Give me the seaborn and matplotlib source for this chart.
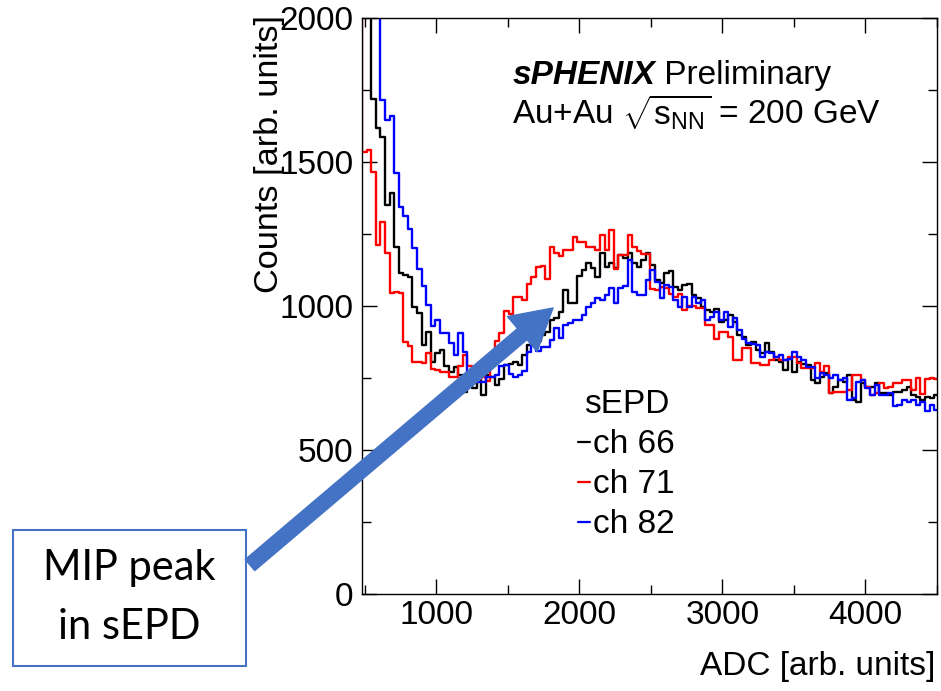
import numpy as np
import pandas as pd
import matplotlib
matplotlib.use("Agg")
import matplotlib.pyplot as plt
import seaborn as sns
from matplotlib.lines import Line2D
from matplotlib.patches import Rectangle, FancyArrowPatch
from matplotlib.ticker import MultipleLocator

# ---------------- data ----------------
bin_edges = list(range(448, 4512 + 1, 32))          # ADC bin edges
bin_centers = [e + 16 for e in bin_edges[:-1]]

ch66 = [2500,
        2400, 2050, 1718, 1617, 1588, 1351, 1391, 1206, 1113, 1108,
        1102, 998, 975, 865, 911, 807, 836, 847, 790, 772,
        789, 760, 702, 743, 715, 754, 691, 760, 754, 725,
        748, 795, 800, 805, 795, 830, 865, 870, 880, 900,
        910, 951, 957, 980, 1055, 1009, 1009, 1105, 1125, 1148,
        1131, 1100, 1183, 1136, 1148, 1131, 1177, 1166, 1183, 1148,
        1136, 1160, 1183, 1143, 1090, 1080, 1113, 1120, 1067, 1055,
        1073, 1078, 1038, 1026, 997, 985, 980, 991, 945, 951,
        968, 945, 900, 893, 864, 876, 847, 835, 870, 841,
        812, 806, 777, 818, 772, 806, 800, 795, 743, 732,
        755, 766, 697, 720, 743, 737, 760, 672, 668, 732,
        720, 720, 732, 697, 697, 691, 703, 700, 708, 720,
        691, 685, 674, 685, 680, 690]

ch71 = [2300,
        1536, 1540, 1466, 1212, 1293, 1183, 1044, 1050, 1044, 875,
        860, 807, 805, 801, 835, 780, 776, 770, 770, 752,
        755, 790, 830, 790, 760, 745, 755, 740, 800, 880,
        905, 983, 972, 1030, 1030, 1020, 1077, 1100, 1136, 1140,
        1095, 1204, 1183, 1175, 1195, 1195, 1241, 1223, 1223, 1206,
        1206, 1195, 1247, 1195, 1264, 1130, 1177, 1177, 1247, 1206,
        1190, 1180, 1180, 1060, 1055, 1065, 1062, 1040, 1032, 1040,
        986, 1000, 1000, 992, 992, 934, 934, 887, 910, 910,
        893, 812, 812, 853, 853, 801, 801, 795, 795, 812,
        824, 812, 812, 824, 824, 801, 783, 783, 783, 801,
        772, 790, 697, 703, 703, 703, 708, 760, 760, 743,
        720, 691, 697, 732, 714, 720, 732, 732, 743, 743,
        708, 749, 695, 745, 749, 745]

ch82 = [2500,
        2400, 2400, 2300, 2200, 1715, 1646, 1660, 1461, 1343, 1314,
        1268, 1202, 1129, 1068, 1002, 932, 950, 906, 906, 870,
        830, 906, 841, 765, 740, 735, 735, 755, 755, 760,
        790, 795, 765, 755, 762, 775, 841, 870, 845, 858,
        858, 882, 923, 888, 934, 940, 951, 951, 969, 998,
        1009, 1027, 1020, 1038, 1062, 1010, 1062, 1068, 1160, 1050,
        1038, 1038, 1090, 1125, 1084, 1027, 1073, 1065, 1020, 997,
        1031, 997, 1031, 1009, 1021, 951, 962, 979, 951, 979,
        928, 957, 916, 887, 870, 868, 864, 824, 841, 835,
        824, 830, 812, 815, 841, 824, 812, 789, 789, 749,
        766, 760, 749, 760, 743, 749, 674, 680, 737, 743,
        714, 691, 726, 691, 691, 697, 651, 655, 674, 668,
        674, 657, 668, 634, 657, 640]

channels = ["ch 66", "ch 71", "ch 82"]
colors = {"ch 66": "black", "ch 71": "red", "ch 82": "blue"}
x_ticks = [1000, 2000, 3000, 4000]
y_ticks = [0, 500, 1000, 1500, 2000]

df = pd.concat([
    pd.DataFrame({"adc": bin_centers, "counts": vals, "channel": name})
    for name, vals in zip(channels, [ch66, ch71, ch82])
], ignore_index=True)

# ---------------- figure ----------------
sns.set_theme(style="ticks", rc={
    "text.color": "black", "axes.labelcolor": "black",
    "xtick.color": "black", "ytick.color": "black",
    "axes.edgecolor": "black",
})
plt.rcParams["font.family"] = ["Liberation Sans", "DejaVu Sans"]
plt.rcParams["mathtext.fontset"] = "custom"
plt.rcParams["mathtext.rm"] = "Liberation Sans"
plt.rcParams["mathtext.it"] = "Liberation Sans:italic"
plt.rcParams["mathtext.bf"] = "Liberation Sans:bold"

fig = plt.figure(figsize=(9.41, 6.91), dpi=100)
fig.patch.set_facecolor("white")
ax = fig.add_axes([0.3842, 0.1404, 0.6115, 0.8336])
ax.set_facecolor("white")

for name in channels:
    sub = df[df["channel"] == name]
    sns.histplot(x=sub["adc"].to_numpy(), weights=sub["counts"].to_numpy(),
                 bins=bin_edges, element="step", fill=False,
                 color=colors[name], linewidth=1.7, ax=ax)

ax.set_xlim(476, 4500)
ax.set_ylim(0, 2000)
ax.set_xticks(x_ticks)
ax.set_xticklabels([str(v) for v in x_ticks])
ax.set_yticks(y_ticks)
ax.set_yticklabels([str(v) for v in y_ticks])
ax.xaxis.set_minor_locator(MultipleLocator(500))
ax.yaxis.set_minor_locator(MultipleLocator(250))
ax.tick_params(which="both", direction="in", top=True, right=True,
               width=1.0, color="black", labelcolor="black",
               labelsize=24)
ax.tick_params(axis="y", pad=6)
ax.tick_params(axis="x", pad=4)
ax.tick_params(which="major", length=11)
ax.tick_params(which="minor", length=6.5)
for s in ax.spines.values():
    s.set_visible(True)
    s.set_linewidth(1.0)
    s.set_color("black")

ax.set_ylabel("Counts [arb. units]", fontsize=24.7, loc="top", color="black")
ax.yaxis.set_label_coords(-0.133, 1.006)
ax.set_xlabel("ADC [arb. units]", fontsize=24, loc="right", color="black")
ax.xaxis.set_label_coords(0.997, -0.099)

# header text
t1 = ax.text(0.262, 0.8854, "sPHENIX", transform=ax.transAxes,
             fontsize=24, fontweight="bold", fontstyle="italic",
             ha="left", va="baseline", color="black")
ax.annotate(" Preliminary", xy=(1, 0), xycoords=t1, fontsize=24,
            ha="left", va="bottom", color="black")
ax.text(0.262, 0.816, r"Au+Au $\sqrt{\mathregular{s_{NN}}}$ = 200 GeV",
        transform=ax.transAxes, fontsize=24, ha="left", va="baseline",
        color="black")

# legend
handles = [Line2D([], [], color=colors[c], lw=1.6) for c in channels]
leg = ax.legend(handles, channels, title="sEPD", loc="upper left",
                bbox_to_anchor=(0.376, 0.355), frameon=False, fontsize=24,
                title_fontsize=24, handlelength=0.35, handletextpad=0.1,
                labelspacing=0.27, borderpad=0.0, borderaxespad=0.0)
for t in leg.get_texts():
    t.set_color("black")
leg.get_title().set_color("black")

# annotation box and arrow (figure coordinates)
W, H = 941, 691
box = Rectangle((13 / W, 1 - 666 / H), 233 / W, 136 / H,
                transform=fig.transFigure, fill=False,
                edgecolor="#4472C4", linewidth=1.5)
fig.add_artist(box)
fig.text(129.5 / W, 1 - 568 / H, "MIP peak", fontsize=30,
         family=["Lato", "DejaVu Sans"], ha="center", va="center",
         color="black")
fig.text(129.5 / W, 1 - 627 / H, "in sEPD", fontsize=30,
         family=["Lato", "DejaVu Sans"], ha="center", va="center",
         color="black")

arrow = FancyArrowPatch((250 / W, 1 - 565 / H), (553 / W, 1 - 308 / H),
                        transform=fig.transFigure,
                        arrowstyle="simple,head_width=33,head_length=29,tail_width=10.5",
                        mutation_scale=1, color="#4472C4",
                        shrinkA=0, shrinkB=0, zorder=10)
fig.add_artist(arrow)

fig.savefig("out.png", dpi=100, facecolor="white")
